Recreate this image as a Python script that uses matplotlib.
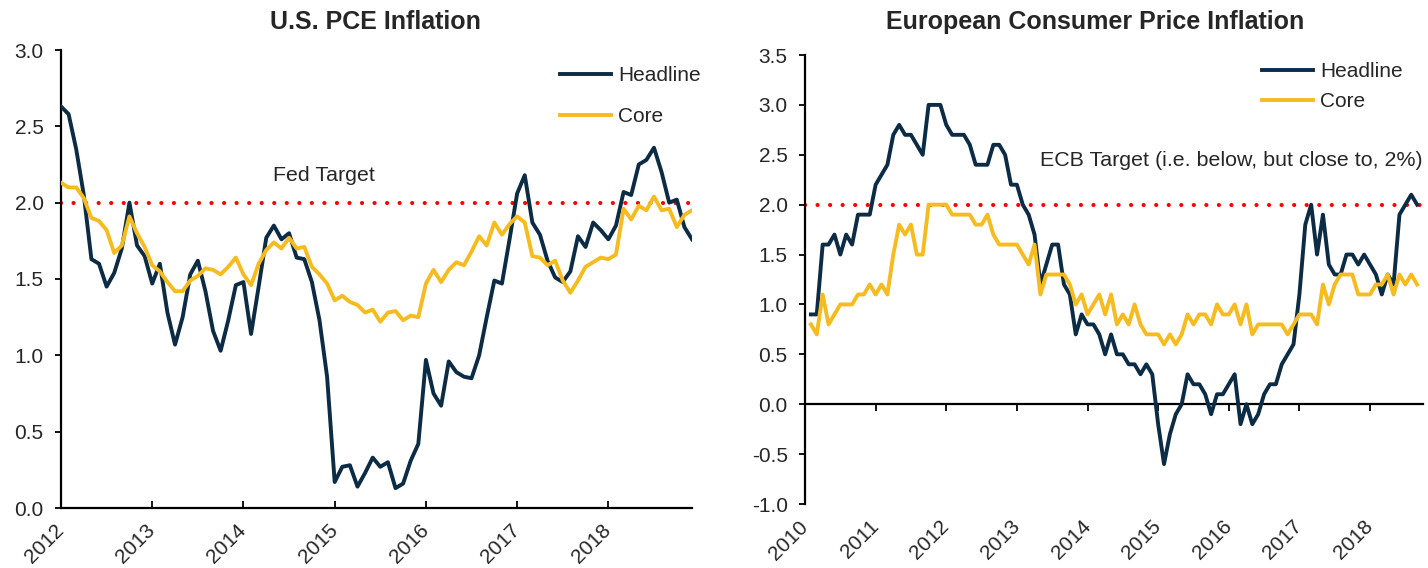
import numpy as np
import matplotlib
matplotlib.use("Agg")
import matplotlib.pyplot as plt

plt.rcParams['font.family'] = ['Liberation Sans', 'DejaVu Sans']
plt.rcParams['axes.unicode_minus'] = False

# US PCE, monthly Jan 2012 - Dec 2018
us_headline = [2.63, 2.58, 2.35, 2.05, 1.63, 1.60, 1.45, 1.54, 1.70, 2.00,
               1.72, 1.65, 1.47, 1.60, 1.28, 1.07, 1.25, 1.53, 1.62, 1.42,
               1.16, 1.03, 1.23, 1.46, 1.48, 1.14, 1.45, 1.77, 1.85, 1.76,
               1.80, 1.64, 1.63, 1.48, 1.23, 0.86, 0.17, 0.27, 0.28, 0.14,
               0.23, 0.33, 0.27, 0.30, 0.13, 0.16, 0.31, 0.42, 0.97, 0.75,
               0.67, 0.96, 0.89, 0.86, 0.85, 1.00, 1.25, 1.49, 1.47, 1.76,
               2.06, 2.18, 1.87, 1.79, 1.62, 1.51, 1.48, 1.55, 1.78, 1.71,
               1.87, 1.82, 1.76, 1.85, 2.07, 2.05, 2.25, 2.28, 2.36, 2.20,
               2.00, 2.02, 1.84, 1.76]
us_core = [2.13, 2.10, 2.10, 2.03, 1.90, 1.88, 1.82, 1.67, 1.72, 1.91,
           1.80, 1.71, 1.59, 1.55, 1.48, 1.42, 1.42, 1.49, 1.52, 1.57,
           1.56, 1.53, 1.58, 1.64, 1.53, 1.46, 1.60, 1.69, 1.74, 1.70,
           1.77, 1.70, 1.71, 1.58, 1.53, 1.47, 1.36, 1.39, 1.35, 1.33,
           1.28, 1.30, 1.22, 1.28, 1.29, 1.23, 1.26, 1.25, 1.47, 1.56,
           1.48, 1.56, 1.61, 1.59, 1.68, 1.78, 1.72, 1.87, 1.79, 1.86,
           1.91, 1.87, 1.65, 1.64, 1.59, 1.62, 1.49, 1.41, 1.49, 1.58,
           1.61, 1.64, 1.63, 1.66, 1.96, 1.89, 1.98, 1.95, 2.04, 1.95,
           1.96, 1.84, 1.92, 1.95]

# euro area HICP, monthly Jan 2010 - Aug 2018
eu_headline = [0.9, 0.9, 1.6, 1.6, 1.7, 1.5, 1.7, 1.6, 1.9, 1.9, 1.9, 2.2,
               2.3, 2.4, 2.7, 2.8, 2.7, 2.7, 2.6, 2.5, 3.0, 3.0, 3.0, 2.8,
               2.7, 2.7, 2.7, 2.6, 2.4, 2.4, 2.4, 2.6, 2.6, 2.5, 2.2, 2.2,
               2.0, 1.9, 1.7, 1.2, 1.4, 1.6, 1.6, 1.2, 1.1, 0.7, 0.9, 0.8,
               0.8, 0.7, 0.5, 0.7, 0.5, 0.5, 0.4, 0.4, 0.3, 0.4, 0.3, -0.2,
               -0.6, -0.3, -0.1, 0.0, 0.3, 0.2, 0.2, 0.1, -0.1, 0.1, 0.1, 0.2,
               0.3, -0.2, 0.0, -0.2, -0.1, 0.1, 0.2, 0.2, 0.4, 0.5, 0.6, 1.1,
               1.8, 2.0, 1.5, 1.9, 1.4, 1.3, 1.3, 1.5, 1.5, 1.4, 1.5, 1.4,
               1.3, 1.1, 1.3, 1.2, 1.9, 2.0, 2.1, 2.0]
eu_core = [0.8, 0.7, 1.1, 0.8, 0.9, 1.0, 1.0, 1.0, 1.1, 1.1, 1.2, 1.1,
           1.2, 1.1, 1.5, 1.8, 1.7, 1.8, 1.5, 1.5, 2.0, 2.0, 2.0, 2.0,
           1.9, 1.9, 1.9, 1.9, 1.8, 1.8, 1.9, 1.7, 1.6, 1.6, 1.6, 1.6,
           1.5, 1.4, 1.6, 1.1, 1.3, 1.3, 1.3, 1.3, 1.2, 1.0, 1.1, 0.9,
           1.0, 1.1, 0.9, 1.1, 0.8, 0.9, 0.8, 1.0, 0.8, 0.7, 0.7, 0.7,
           0.6, 0.7, 0.6, 0.7, 0.9, 0.8, 0.9, 0.9, 0.8, 1.0, 0.9, 0.9,
           1.0, 0.8, 1.0, 0.7, 0.8, 0.8, 0.8, 0.8, 0.8, 0.7, 0.8, 0.9,
           0.9, 0.9, 0.8, 1.2, 1.0, 1.2, 1.3, 1.3, 1.3, 1.1, 1.1, 1.1,
           1.2, 1.2, 1.3, 1.1, 1.3, 1.2, 1.3, 1.2]

us_years = [2012, 2013, 2014, 2015, 2016, 2017, 2018]
eu_years = [2010, 2011, 2012, 2013, 2014, 2015, 2016, 2017, 2018]
fed_target = 2.0
ecb_target = 2.0

navy = '#0c2b44'
gold = '#f5bb1f'
txt = '#262626'
fs = 15
fs_note = 15.4

x_us = 2012 + np.arange(len(us_headline)) / 12
x_eu = 2010 + np.arange(1, len(eu_headline) + 1) / 12

fig = plt.figure(figsize=(14.28, 5.68), dpi=100)
W, H = 1428, 568
ax1 = fig.add_axes([61 / W, 1 - 508 / H, 631 / W, 458 / H])
ax2 = fig.add_axes([805 / W, 1 - 504 / H, 618 / W, 449 / H])

def style(ax):
    for s in ['top', 'right']:
        ax.spines[s].set_visible(False)
    for s in ['left', 'bottom']:
        ax.spines[s].set_linewidth(1.6)
        ax.spines[s].set_color('black')
    ax.tick_params(axis='y', direction='out', length=4.5, width=1.3, labelsize=fs,
                   labelcolor=txt, pad=8)
    ax.yaxis.set_major_formatter(matplotlib.ticker.FormatStrFormatter('%.1f'))

# ---- US chart
ax1.plot(x_us, us_headline, color=navy, lw=2.8, label='Headline', zorder=3)
ax1.plot(x_us, us_core, color=gold, lw=2.8, label='Core', zorder=3)
ax1.axhline(fed_target, color='red', lw=3, dashes=(0.01, 3), dash_capstyle='round', zorder=2)
ax1.set_xlim(x_us[0], x_us[-1])
ax1.set_ylim(0, 3)
ax1.set_yticks(np.arange(0, 3.01, 0.5))
style(ax1)
ax1.set_xticks(us_years)
ax1.set_xticklabels([str(y) for y in us_years], rotation=45, ha='right', va='center',
                    rotation_mode='anchor')
ax1.tick_params(axis='x', direction='in', length=5, width=1.3, labelsize=fs,
                labelcolor=txt, pad=14)
ax1.text(0.336, 0.727, 'Fed Target', transform=ax1.transAxes, fontsize=fs_note,
         color=txt, va='center', ha='left')
ax1.legend(loc='upper left', bbox_to_anchor=(560 / W, 1 - 66 / H),
           bbox_transform=fig.transFigure, frameon=False, fontsize=fs,
           handlelength=2.45, handletextpad=0.33, labelspacing=1.07,
           borderpad=0, borderaxespad=0, labelcolor=txt)

# ---- Europe chart
ax2.plot(x_eu, eu_headline, color=navy, lw=2.8, label='Headline', zorder=3)
ax2.plot(x_eu, eu_core, color=gold, lw=2.8, label='Core', zorder=3)
ax2.axhline(ecb_target, color='red', lw=3, dashes=(0.01, 3), dash_capstyle='round', zorder=2)
ax2.set_xlim(2010, 2010 + 105 / 12)
ax2.set_ylim(-1, 3.5)
ax2.set_yticks(np.arange(-1, 3.51, 0.5))
style(ax2)
ax2.spines['bottom'].set_position(('data', 0))
ax2.set_xticks(eu_years)
ax2.set_xticklabels([str(y) for y in eu_years], rotation=45, ha='right', va='center',
                    rotation_mode='anchor')
ax2.tick_params(axis='x', direction='out', length=5, width=1.3, labelsize=fs,
                labelcolor=txt, pad=81)
ax2.text(0.380, 0.764, 'ECB Target (i.e. below, but close to, 2%)', transform=ax2.transAxes,
         fontsize=fs_note, color=txt, va='center', ha='left')
ax2.legend(loc='upper left', bbox_to_anchor=(1262 / W, 1 - 62 / H),
           bbox_transform=fig.transFigure, frameon=False, fontsize=fs,
           handlelength=2.45, handletextpad=0.33, labelspacing=0.54,
           borderpad=0, borderaxespad=0, labelcolor=txt)

fig.text(375 / W, 1 - 22 / H, 'U.S. PCE Inflation', fontsize=18, fontweight='bold',
         color=txt, ha='center', va='center')
fig.text(1095 / W, 1 - 22 / H, 'European Consumer Price Inflation', fontsize=18,
         fontweight='bold', color=txt, ha='center', va='center')

fig.savefig('out.png', dpi=100)
